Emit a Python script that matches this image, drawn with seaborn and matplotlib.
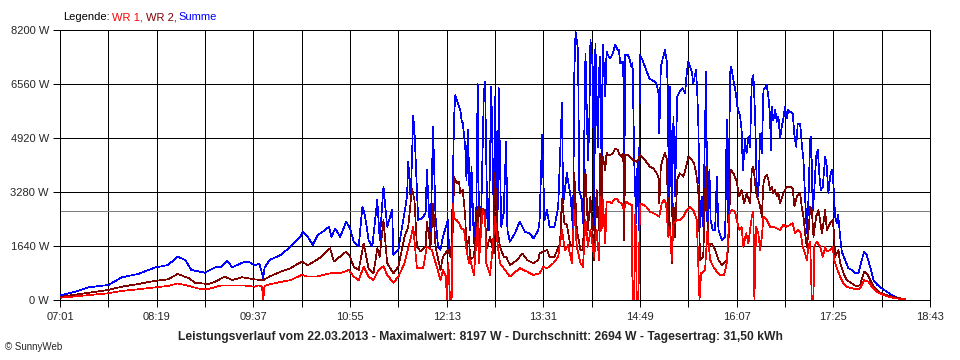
import numpy as np
import pandas as pd
import matplotlib
matplotlib.use('Agg')
import matplotlib.pyplot as plt
import seaborn as sns

summe_min = [1, 12, 23, 39, 50, 63, 77, 87, 95, 101, 106, 117, 125, 130, 135, 139, 147, 152, 157, 161,
             164, 165, 169, 178, 186, 194, 196, 200, 204, 208, 212, 217, 219, 222, 226, 231, 234, 237, 241, 244,
             246, 249, 252, 256, 258, 261, 264, 268, 269, 273, 277, 280, 281, 283, 285, 286, 289, 292, 295, 296,
             299, 301, 303, 305, 307, 309, 313, 314, 316, 317, 318, 319, 321, 323, 324, 325, 327, 328, 329, 330,
             331, 332, 334, 336, 337, 338, 340, 342, 343, 344, 345, 346, 348, 350, 351, 353, 354, 356, 358, 360,
             361, 363, 367, 371, 375, 379, 382, 386, 387, 389, 391, 393, 395, 399, 402, 405, 406, 409, 412, 414,
             415, 416, 418, 419, 421, 422, 424, 426, 427, 428, 430, 431, 432, 434, 435, 436, 437, 438, 440, 441,
             442, 444, 446, 448, 450, 451, 452, 454.5, 455.2, 456, 458, 459, 461, 462, 463.5, 465, 466, 467, 468, 470,
             472, 473, 475.5, 477.5, 480, 481.5, 483, 483.6, 484.8, 486.4, 488.2, 489.6, 490.4, 491.5, 492.3, 493.6,
             495, 496.3, 498, 500, 502.5, 504.4, 505.7, 507, 508.4, 509.8, 511, 513.3, 514.3, 515, 516.5, 517.8,
             519, 521.3, 522.4, 524, 525, 526.7, 528.6, 530, 531.3, 534, 536.7, 538, 539.3, 540.7, 541.5, 543.4,
             545.3, 546.6, 548.8, 550, 551, 552.8, 554, 555.5, 556.8, 558.2, 559.5, 560.9, 562.2, 563.5, 564.9,
             566.3, 567.6, 568.9, 570.3, 571.6, 573, 573.5, 574.3, 575.6, 577, 578.4, 579.7, 581, 582.4, 583.7,
             585, 586.4, 587.7, 589.1, 591.2, 592.6, 594, 595.3, 597.2, 598.5, 599.9, 601.2, 602.6, 603.9, 605.3,
             606.1, 607.4, 608.5, 610.1, 611.5, 612.8, 613.9, 615.5, 617.4, 618.7, 620, 621.4, 622.7, 623.5, 624.6,
             625.4, 626.8, 627.9, 629.5, 630.8, 633.5, 636.2, 638.9, 641.6, 644.3, 647, 648.8, 651, 653.7, 656.4,
             659.6, 663.1, 667.2, 671.2, 675.2, 680.6, 682]
summe_w = [150, 250, 385, 455, 690, 790, 990, 1060, 1315, 1215, 910, 830, 990, 1010, 1195, 990, 1135, 1165, 1060, 1100,
           660, 970, 1215, 1365, 1620, 1920, 2075, 1920, 1670, 1975, 2075, 2225, 1920, 2175, 1920, 2380, 2175, 1770, 1620, 2835,
           2585, 1820, 1620, 3040, 1820, 3440, 2225, 2735, 1365, 1520, 2430, 3140, 4200, 3040, 5590, 5165, 2430, 2480, 2635, 3950,
           1820, 5245, 2530, 1620, 1520, 1920, 2430, 1470, 1520, 3645, 5570, 6225, 5975, 5770, 5465, 5365, 4655, 3645, 5165, 4050,
           2125, 4050, 1720, 2835, 6580, 2530, 2835, 6275, 6630, 4150, 2125, 2125, 6480, 2530, 6175, 2125, 6430, 2225, 2635, 4810,
           2125, 1770, 2025, 2380, 2075, 2025, 1870, 2125, 2430, 5010, 2430, 2735, 2225, 2225, 2835, 5975, 2935, 3850, 3140, 2125,
           6885, 8150, 7590, 3340, 3040, 2330, 7490, 4250, 5165, 7915, 6985, 2125, 7795, 4655, 6985, 7390, 3950, 7745, 6175, 7540,
           7440, 7340, 7490, 7745, 7590, 7590, 7190, 7240, 2330, 7440, 7440, 7390, 7085, 7190, 3950, 2330, 4250, 2125, 7440, 7290,
           7085, 6985, 6730, 6680, 6630, 6530, 6275, 5060, 7085, 7340, 7590, 7240, 6430, 2330, 6480, 2530,
           5570, 3140, 6175, 6325, 6430, 6275, 6885, 7240, 7085, 6935, 6580, 6985, 6175, 5465, 2225, 3140,
           2225, 6935, 2125, 3950, 2430, 2125, 2125, 3745, 2125, 1820, 1920, 5465, 2330, 6885, 7085, 6680,
           6275, 5870, 5570, 5165, 3950, 4860, 4455, 4960, 4655, 6680, 6835, 5570, 3440, 3140, 5060,
           4455, 6380, 6430, 6530, 6175, 5570, 4555, 5870, 5465, 5770, 5415, 5570, 4910, 5265, 5520,
           5870, 5520, 5770, 5720, 5670, 5010, 4655, 5365, 5365, 4760, 4250, 3140, 2025, 3040, 4860,
           4960, 2735, 3240, 4350, 4555, 3745, 3340, 3440, 4350, 4050, 3240, 3745, 3950, 3850, 3190,
           2530, 2330, 2585, 1920, 1470, 1215, 965, 910, 810, 810, 1215, 1470, 1365, 1010, 605,
           455, 355, 250, 150, 80, 30, 0]

wr2_min = [1, 23, 39, 50, 63, 77, 87, 95, 104, 109, 120, 125, 133, 139, 147, 157, 164, 169, 178, 186,
           195, 200, 207, 211, 218, 221, 229, 231, 234, 237, 241, 245, 249, 253, 256, 258, 261, 264, 269, 273,
           278, 281, 284, 286, 288, 291, 295, 296, 299, 301, 303, 307, 309, 313, 315, 317, 318, 320, 322, 323,
           325, 327, 328, 330, 331, 334, 337, 338, 340, 343, 344, 347, 350, 351, 353, 355, 358, 360, 363, 369,
           373, 377, 382, 386, 387, 390, 393, 395, 399, 403.5, 405, 407, 409, 412, 414, 415, 417, 420, 422, 424,
           426, 428, 431, 433, 435, 436, 437, 438, 440, 441, 442, 444, 446, 448, 450, 451, 453, 454.5, 455.2, 456,
           458.6, 461.3, 462.7, 465, 466.7, 468, 470.7, 473, 476, 478.8, 481.5, 483, 483.6, 484.8, 486.9, 488.2,
           489.6, 490.9, 492.3, 493.6, 495, 496.3, 498, 500, 503, 505.2, 507, 509.8, 511.6, 513.3, 515, 516.5,
           519, 521.3, 523.2, 525.9, 528.6, 531.3, 534, 538, 539.3, 541.2, 543.4, 546, 548, 550, 552, 554,
           556.8, 558.2, 559.5, 560.9, 562.2, 563.5, 564.9, 566.3, 567.6, 568.9, 570.3, 571.6, 573, 574.3,
           575.6, 577, 578.4, 579.7, 581, 583.7, 586.4, 589.1, 591.2, 592.6, 594.5, 597.2, 598.5, 599.9, 601.2,
           602.6, 603.9, 605.3, 606.6, 608, 610.1, 612, 613.3, 614.7, 616, 617.4, 618.7, 620, 621.4, 623.5,
           624.6, 625.4, 626.8, 628.1, 629.5, 632.2, 634.9, 638.9, 643, 645.6, 648.8, 651, 653.7, 656.4, 660.4,
           664.5, 669.9, 675.2, 682]
wr2_w = [100, 220, 305, 405, 485, 585, 625, 790, 660, 525, 485, 555, 710, 605, 690, 625, 605, 710, 860, 965,
         1165, 1060, 1215, 1315, 1570, 1165, 1415, 1470, 1315, 1010, 910, 1720, 965, 810, 1570, 1315, 2430, 1115, 810, 1010,
         1920, 2225, 3390, 3040, 1620, 1470, 1620, 2380, 1620, 2935, 1620, 910, 1315, 1520, 1315, 2125, 3745, 3545, 3595, 3240,
         3340, 2530, 1520, 1920, 1215, 1315, 2835, 1315, 2785, 2735, 1520, 1920, 1415, 3850, 2125, 1620, 1315, 1315, 1060, 1215,
         1415, 1215, 1115, 1215, 1415, 1470, 1520, 1315, 1315, 1720, 3085, 2330, 2280, 1620, 1720, 3850, 2125, 1520, 1520, 3950,
         2125, 3140, 1215, 3340, 2125, 4455, 2735, 4350, 3950, 4475, 4405, 4405, 4455, 4605, 4555, 4455, 4350, 4455, 1820, 4405,
         4405, 4300, 4250, 4200, 4250, 4405, 4300, 4200, 4050, 4000, 3850, 3695, 2935, 4050, 4350, 4455,
         4300, 2125, 2330, 1115, 2935, 1920, 3645, 3850, 3745, 4050, 4350, 4250, 4150, 3850, 3340, 1215,
         1315, 4050, 1620, 1720, 1520, 1215, 1060, 1215, 1620, 3950, 3850, 3595, 3140, 3340, 2935, 3240,
         2935, 3950, 4050, 3545, 3140, 3040, 2835, 2530, 3545, 3745, 3795, 3645, 3340, 3440,
         3240, 3340, 3140, 3240, 2935, 3240, 3440, 3440, 3390, 2835, 3140, 3240, 2835, 2530, 2025,
         1620, 2025, 2835, 2735, 1920, 2530, 2735, 2430, 2025, 2330, 2735, 2125, 2225, 2330, 2430,
         2025, 1315, 1415, 1520, 1115, 810, 605, 505, 405, 455, 860, 810, 605, 405, 250,
         180, 120, 70, 20]

wr1_min = [1, 23, 39, 50, 63, 77, 87, 95, 104, 112, 120, 130, 147, 157, 160, 163, 164, 165, 167, 175,
           186, 195, 200, 207, 218, 226, 233, 237, 241, 245, 249, 253, 257, 261, 264, 269, 273, 278, 282, 285,
           288, 293, 296, 300, 304, 307, 309, 311.5, 312, 313.4, 314.7, 316, 317, 318, 320, 322, 324, 326, 328, 330,
           331, 334, 337, 338, 341, 343, 344, 347, 349, 351, 353, 355, 359, 363, 371, 377, 382, 387, 390, 393,
           398, 402, 405, 407.5, 410, 413, 415, 417, 420, 422, 424, 426, 428, 431, 433, 435, 436, 437, 438, 440,
           441, 443, 445, 447, 449, 451, 453, 455.2, 456.8, 458.6, 461.3, 462, 463.2, 464.3, 465.4, 466.7, 468,
           470.7, 473, 476, 478.8, 481.5, 483.6, 485.5, 487.4, 489, 490.9, 492.3, 493.6, 495, 497.7, 500, 503,
           505.7, 508.4, 511, 513.8, 516, 517.3, 520.5, 522.4, 524.6, 527.2, 530, 532.6, 535.8, 538, 540.2, 542,
           544.7, 546, 548.2, 550, 551.4, 553.6, 555.5, 556.8, 558.2, 559.5, 560.3, 561.7, 563.5, 564.9, 566.3,
           567.6, 570.3, 571.6, 573, 575.6, 578.4, 581, 583.7, 586.4, 589.1, 591.2, 593.1, 595.8, 597.7, 599.3,
           601.2, 602.6, 603.9, 605.3, 606.6, 608, 608.5, 610.7, 613.3, 615.5, 617.4, 618.7, 621.4, 623.5, 624.6,
           626.8, 629.5, 632.2, 634.9, 638.9, 643, 645.6, 648.8, 652.3, 655, 659, 663.1, 668.5, 673.9, 682]
wr1_w = [70, 150, 205, 275, 325, 385, 425, 505, 425, 345, 335, 445, 445, 405, 445, 405, 0, 425, 455, 525,
         605, 760, 710, 710, 810, 810, 910, 710, 605, 1010, 710, 605, 910, 1030, 760, 525, 710, 1115, 1720, 2225,
         965, 965, 1620, 1520, 1010, 605, 910, 710, 0, 1115, 0, 0, 2935, 2480, 2430, 2330, 2175, 2125, 1520, 1115,
         1215, 760, 2330, 1115, 2735, 2530, 1115, 760, 1520, 2530, 1720, 1115, 910, 710, 965, 860, 760, 810, 1010, 965,
         1115, 1315, 2125, 1520, 1670, 1115, 2735, 1620, 1115, 1010, 2430, 1620, 2125, 1315, 2125, 1215, 3140, 2125, 3040, 1720,
         2985, 2985, 2935, 3040, 3085, 2985, 2935, 2735, 2985, 2935, 2885, 0, 0, 2735, 0, 0, 2935,
         2885, 2835, 2685, 2635, 2585, 2530, 2935, 3040, 2935, 1920, 2125, 1215, 2330, 2430, 2430, 2530,
         2735, 2835, 2735, 2430, 0, 810, 910, 2125, 1215, 1010, 860, 760, 760, 1115, 2635, 2735,
         2685, 2430, 2125, 2225, 1620, 2025, 1720, 2125, 2530, 2685, 0, 2225, 2025, 1520, 1920,
         2530, 2430, 2330, 2225, 2225, 2175, 2125, 2280, 2225, 2280, 2330, 2025, 2125, 2025, 1620,
         1415, 1215, 1620, 1770, 0, 0, 1620, 1770, 1620, 1315, 1620, 1470, 1520, 1620, 1215,
         965, 710, 505, 405, 355, 325, 355, 605, 555, 405, 250, 175, 100, 50, 20]

series_names = ['Summe', 'WR 2', 'WR 1']
series_colors = ['#0000ff', '#800000', '#ff0000']
mean_w = 2694
tick_labels = ['07:01', '08:19', '09:37', '10:55', '12:13', '13:31', '14:49', '16:07', '17:25', '18:43']
y_ticks = [0, 1640, 3280, 4920, 6560, 8200]

# long table for seaborn
df = pd.concat([
    pd.DataFrame({'min': summe_min, 'W': summe_w, 'serie': 'Summe'}),
    pd.DataFrame({'min': wr2_min, 'W': wr2_w, 'serie': 'WR 2'}),
    pd.DataFrame({'min': wr1_min, 'W': wr1_w, 'serie': 'WR 1'}),
], ignore_index=True)

sns.set_style('white')
plt.rcParams['font.family'] = ['Liberation Sans', 'DejaVu Sans']

fig = plt.figure(figsize=(9.6, 3.6), dpi=100)
ax = fig.add_axes([60 / 960, 60 / 360, 870 / 960, 270 / 360])

# thin lines, no smoothing, like the original bitmap
sns.lineplot(data=df, x='min', y='W', hue='serie', hue_order=series_names,
             palette=series_colors, estimator=None, sort=False, legend=False,
             linewidth=0.5, antialiased=False, ax=ax, zorder=3)

ax.axhline(mean_w, color='#808080', linewidth=0.72, zorder=2, antialiased=False)

ax.set_xlim(0, 702)
ax.set_ylim(0, 8200)
ax.set_xticks(np.arange(0, 703, 78))
ax.set_xticklabels(tick_labels)
ax.set_xticks(np.arange(39, 703, 78), minor=True)
ax.set_yticks(y_ticks)
ax.set_yticklabels([f'{v} W' for v in y_ticks])
ax.grid(which='both', color='black', linewidth=0.72, antialiased=False, zorder=1)
ax.set_axisbelow(True)
ax.tick_params(which='both', direction='out', length=5, width=0.72, color='black',
               labelsize=8, bottom=True, left=True)
ax.tick_params(axis='x', pad=4)
ax.tick_params(axis='y', pad=3)
ax.set_xlabel('')
ax.set_ylabel('')
for sp in ax.spines.values():
    sp.set_color('black')
    sp.set_linewidth(0.72)
    sp.set_visible(True)

# legend text in the top left, one coloured piece after the other
renderer = fig.canvas.get_renderer()
x_px = 63
for txt, col in [('Legende:', 'black'), ('WR 1,', '#ff0000'), ('WR 2,', '#800000'), ('Summe', '#0000ff')]:
    t = fig.text(x_px / 960, 1 - 17 / 360, txt, color=col, fontsize=8, va='center', ha='left')
    bb = t.get_window_extent(renderer)
    x_px = bb.x1 + 2.5

fig.text(0.5, 1 - 337 / 360,
         'Leistungsverlauf vom 22.03.2013 - Maximalwert: 8197 W - Durchschnitt: 2694 W - Tagesertrag: 31,50 kWh',
         fontsize=8.7, fontweight='bold', ha='center', va='center')
fig.text(5 / 960, 1 - 347 / 360, '© SunnyWeb', fontsize=7, ha='left', va='center')

fig.savefig('out.png', dpi=100)
